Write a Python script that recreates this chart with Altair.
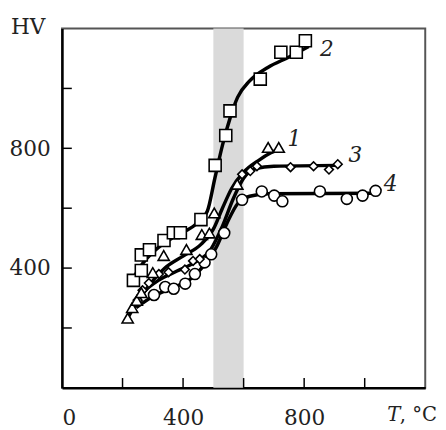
import altair as alt
import pandas as pd

# ---- data ----
# series 1 (triangles)
T1 = [217, 232, 247, 262, 300, 336, 411, 462, 487, 503, 579, 681, 716]
HV1 = [233, 268, 292, 318, 385, 442, 462, 512, 517, 584, 680, 803, 803]
# series 2 (squares)
T2 = [236, 262, 262, 289, 337, 368, 391, 459, 506, 541, 555, 655, 723, 774, 804]
HV2 = [359, 392, 444, 461, 492, 518, 518, 562, 743, 843, 925, 1031, 1121, 1121, 1159]
# series 3 (diamonds)
T3 = [250, 266, 287, 320, 352, 406, 433, 455, 595, 622, 644, 755, 831, 882, 911]
HV3 = [293, 326, 350, 380, 386, 395, 424, 430, 713, 724, 740, 737, 740, 729, 747]
# series 4 (circles)
T4 = [304, 341, 369, 407, 439, 471, 493, 536, 595, 660, 701, 728, 852, 941, 993, 1036]
HV4 = [310, 337, 331, 348, 380, 419, 446, 517, 628, 656, 642, 623, 656, 631, 642, 658]

# fitted curves
C1T = [217, 250, 290, 340, 400, 460, 500, 530, 560, 600, 650, 690, 725]
C1H = [233, 290, 345, 400, 440, 480, 530, 600, 665, 720, 760, 785, 800]
C2T = [236, 270, 320, 380, 440, 480, 505, 530, 555, 580, 620, 680, 750, 815]
C2H = [368, 420, 470, 510, 545, 590, 700, 810, 900, 970, 1025, 1070, 1105, 1140]
C3T = [228, 270, 320, 380, 440, 490, 530, 565, 600, 640, 700, 910]
C3H = [262, 320, 360, 390, 420, 460, 540, 630, 700, 732, 740, 743]
C4T = [245, 300, 360, 420, 470, 510, 545, 580, 620, 680, 1040]
C4H = [268, 305, 333, 360, 410, 470, 550, 615, 640, 648, 650]

BAND = [500, 600]
X_LABELS = [0, 400, 800]
Y_LABELS = [400, 800]
X_TICKS = [200, 400, 600, 800, 1000]
Y_TICKS = [200, 400, 600, 800, 1000]

CURVE_LABELS = ["1", "2", "3", "4"]
CURVE_LABEL_T = [768, 875, 969, 1086]
CURVE_LABEL_HV = [832, 1132, 776, 682]

W, H = 370, 366
FONT = "DejaVu Serif"
FS = 22

xs = alt.Scale(domain=[0, 1200], nice=False, zero=False)
ys = alt.Scale(domain=[0, 1200], nice=False, zero=False)
xaxis = alt.Axis(values=X_LABELS, title=None, grid=False, ticks=False, tickSize=0,
                 labelPadding=20, domainColor="black", domainWidth=2.5,
                 labelFont=FONT, labelFontSize=FS, labelColor="#222")
yaxis = alt.Axis(values=Y_LABELS, title=None, grid=False, ticks=False, tickSize=0,
                 labelPadding=12, domainColor="black", domainWidth=2.5,
                 labelFont=FONT, labelFontSize=FS, labelColor="#222")


def X(f):
    return alt.X(f, type="quantitative", scale=xs, axis=xaxis)


def Y(f):
    return alt.Y(f, type="quantitative", scale=ys, axis=yaxis)


band = alt.Chart(pd.DataFrame({"a": [BAND[0]], "b": [BAND[1]]})).mark_rect(
    color="#dadada").encode(x=X("a"), x2="b", y=alt.datum(0), y2=alt.datum(1200))

xt = alt.Chart(pd.DataFrame({"t": X_TICKS})).mark_rule(color="black", strokeWidth=1.5).encode(
    x=X("t"), y=alt.value(H), y2=alt.value(H - 10))
yt = alt.Chart(pd.DataFrame({"t": Y_TICKS})).mark_rule(color="black", strokeWidth=1.5).encode(
    y=Y("t"), x=alt.value(0), x2=alt.value(10))

curves = []
for s, (ct, ch) in enumerate([(C1T, C1H), (C2T, C2H), (C3T, C3H), (C4T, C4H)]):
    df = pd.DataFrame({"T": ct, "HV": ch, "o": range(len(ct))})
    curves.append(alt.Chart(df).mark_line(color="black", strokeWidth=3.5, interpolate="monotone")
                  .encode(x=X("T"), y=Y("HV"), order="o:Q"))

markers = []
for (t, h, shape, size) in [(T4, HV4, "circle", 125), (T3, HV3, "diamond", 80),
                            (T1, HV1, "triangle-up", 130), (T2, HV2, "square", 150)]:
    df = pd.DataFrame({"T": t, "HV": h})
    markers.append(alt.Chart(df).mark_point(shape=shape, size=size, filled=True, fill="white",
                                            stroke="black", strokeWidth=1.6, opacity=1)
                   .encode(x=X("T"), y=Y("HV")))

clabels = alt.Chart(pd.DataFrame({"l": CURVE_LABELS, "T": CURVE_LABEL_T, "HV": CURVE_LABEL_HV})).mark_text(
    font=FONT, fontSize=FS, fontStyle="italic", color="#222", align="center", baseline="middle"
).encode(x=X("T"), y=Y("HV"), text="l:N")

t_lab = alt.Chart(pd.DataFrame({"s": ["T"]})).mark_text(
    font=FONT, fontSize=20, fontStyle="italic", color="#222", align="right", baseline="middle"
).encode(x=alt.datum(1118), y=alt.datum(-90), text="s:N")
c_lab = alt.Chart(pd.DataFrame({"s": [", °C"]})).mark_text(
    font=FONT, fontSize=20, color="#222", align="left", baseline="middle"
).encode(x=alt.datum(1116), y=alt.datum(-90), text="s:N")
hv_lab = alt.Chart(pd.DataFrame({"s": ["HV"]})).mark_text(
    font=FONT, fontSize=FS, color="#222", align="center", baseline="middle"
).encode(x=alt.datum(-112), y=alt.datum(1205), text="s:N")

chart = alt.layer(band, xt, yt, *curves, *markers, clabels, t_lab, c_lab, hv_lab).properties(
    width=W, height=H,
    autosize=alt.AutoSizeParams(type="none"),
    padding={"left": 55, "top": 17, "right": 13, "bottom": 39},
    background="white",
).configure_view(stroke="#555", strokeWidth=2)

chart.save("out.html", embed_options={"renderer": "svg", "actions": False})
